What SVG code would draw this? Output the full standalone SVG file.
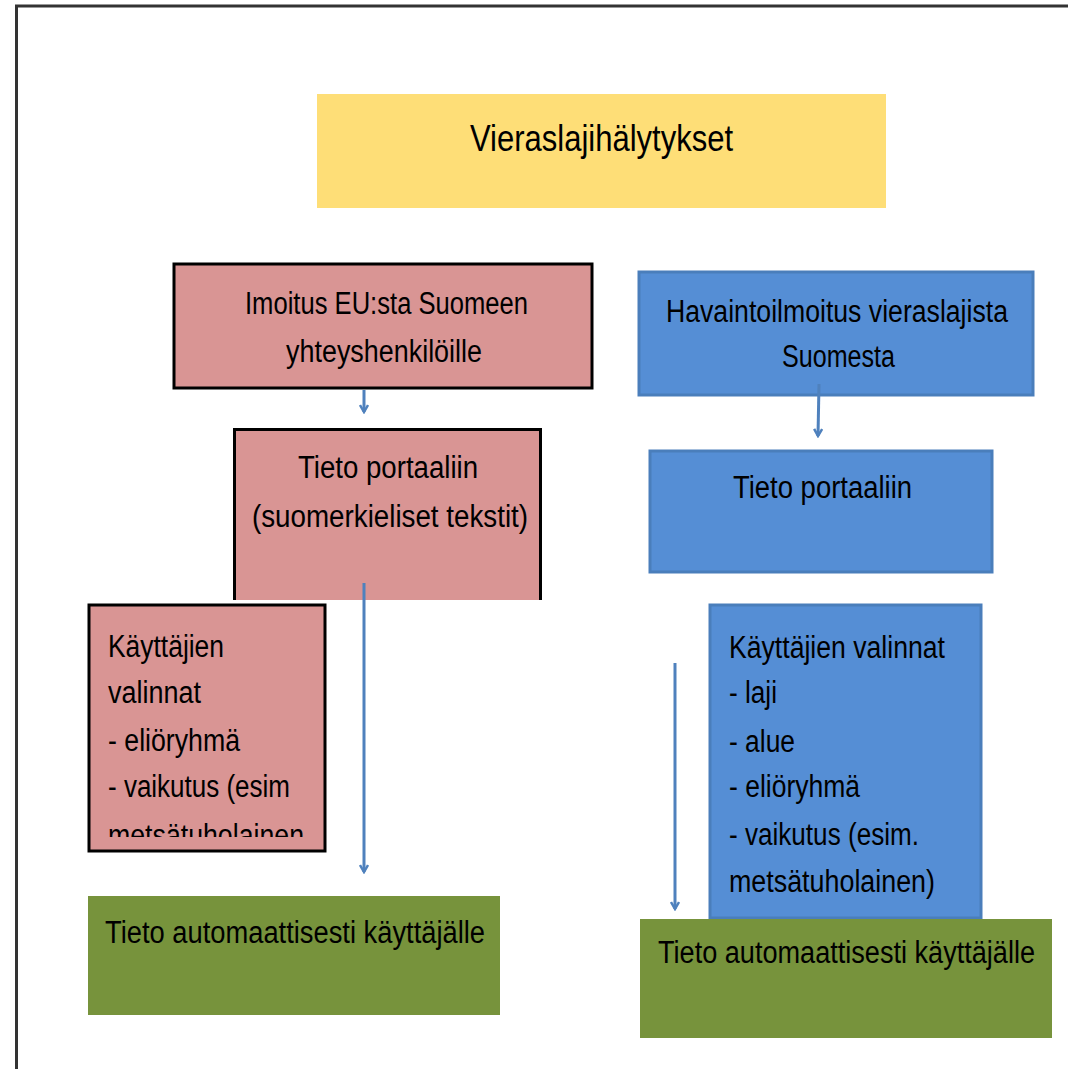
<svg xmlns="http://www.w3.org/2000/svg" width="1068" height="1069" viewBox="0 0 1068 1069">
<style>
text{font-family:"Liberation Sans",Arial,sans-serif;fill:#000}
.t{font-size:31px}
.title{font-size:36px}
.pink{fill:#D99594}
.blue{fill:#558ED5;stroke:#4A7EBB;stroke-width:3}
.green{fill:#77933C}
.conn{stroke:#4F81BD;stroke-width:3;fill:none}
</style>
<defs>
<marker id="ah" markerWidth="10" markerHeight="10" refX="8" refY="5" orient="auto" markerUnits="userSpaceOnUse" viewBox="0 0 10 10">
<path d="M1,1 L8,5 L1,9" fill="none" stroke="#4F81BD" stroke-width="2.5"/>
</marker>
<clipPath id="c3"><rect x="88" y="604" width="238" height="233"/></clipPath>
</defs>
<g id="frame">
<line x1="15" y1="6" x2="1068" y2="6" stroke="#333" stroke-width="3"/>
<line x1="16.5" y1="5" x2="16.5" y2="1069" stroke="#333" stroke-width="3"/>
</g>
<g id="title">
<rect x="317" y="94" width="569" height="114" fill="#FEDE77"/>
<text class="title" x="470" y="151" textLength="263" lengthAdjust="spacingAndGlyphs">Vieraslajihälytykset</text>
</g>
<g id="eu">
<rect class="pink" x="174" y="264" width="418" height="124" stroke="#000" stroke-width="3"/>
<text class="t" x="245" y="314" textLength="283" lengthAdjust="spacingAndGlyphs">Imoitus EU:sta Suomeen</text>
<text class="t" x="286" y="362" textLength="196" lengthAdjust="spacingAndGlyphs">yhteyshenkilöille</text>
</g>
<g id="portal-left">
<rect class="pink" x="233" y="428" width="309" height="172"/>
<path d="M234.5,600 V429.5 H540.5 V600" fill="none" stroke="#000" stroke-width="3"/>
<text class="t" x="298" y="478" textLength="180" lengthAdjust="spacingAndGlyphs">Tieto portaaliin</text>
<text class="t" x="252" y="527" textLength="276" lengthAdjust="spacingAndGlyphs">(suomerkieliset tekstit)</text>
</g>
<g id="choices-left">
<rect class="pink" x="89" y="605" width="236" height="246" stroke="#000" stroke-width="3"/>
<g clip-path="url(#c3)">
<text class="t" x="108" y="657" textLength="116" lengthAdjust="spacingAndGlyphs">Käyttäjien</text>
<text class="t" x="108" y="703" textLength="93" lengthAdjust="spacingAndGlyphs">valinnat</text>
<text class="t" x="108" y="751" textLength="132" lengthAdjust="spacingAndGlyphs">- eliöryhmä</text>
<text class="t" x="108" y="797" textLength="182" lengthAdjust="spacingAndGlyphs">- vaikutus (esim</text>
<text class="t" x="108" y="846" textLength="196" lengthAdjust="spacingAndGlyphs">metsätuholainen</text>
</g>
</g>
<g id="result-left">
<rect class="green" x="88" y="896" width="412" height="119"/>
<text class="t" x="105" y="943" textLength="380" lengthAdjust="spacingAndGlyphs">Tieto automaattisesti käyttäjälle</text>
</g>
<g id="observation">
<rect class="blue" x="639" y="272" width="394" height="123"/>
<text class="t" x="666" y="322" textLength="342" lengthAdjust="spacingAndGlyphs">Havaintoilmoitus vieraslajista</text>
<text class="t" x="782" y="367" textLength="113" lengthAdjust="spacingAndGlyphs">Suomesta</text>
</g>
<g id="portal-right">
<rect class="blue" x="650" y="451" width="342" height="121"/>
<text class="t" x="733" y="498" textLength="179" lengthAdjust="spacingAndGlyphs">Tieto portaaliin</text>
</g>
<g id="choices-right">
<rect class="blue" x="710" y="605" width="271" height="313"/>
<text class="t" x="729" y="658" textLength="216" lengthAdjust="spacingAndGlyphs">Käyttäjien valinnat</text>
<text class="t" x="729" y="703" textLength="48" lengthAdjust="spacingAndGlyphs">- laji</text>
<text class="t" x="729" y="752" textLength="66" lengthAdjust="spacingAndGlyphs">- alue</text>
<text class="t" x="729" y="797" textLength="131" lengthAdjust="spacingAndGlyphs">- eliöryhmä</text>
<text class="t" x="729" y="845" textLength="190" lengthAdjust="spacingAndGlyphs">- vaikutus (esim.</text>
<text class="t" x="729" y="892" textLength="206" lengthAdjust="spacingAndGlyphs">metsätuholainen)</text>
</g>
<g id="result-right">
<rect class="green" x="640" y="919" width="412" height="119"/>
<text class="t" x="658" y="963" textLength="377" lengthAdjust="spacingAndGlyphs">Tieto automaattisesti käyttäjälle</text>
</g>
<g id="connectors">
<line class="conn" x1="364" y1="390" x2="364" y2="412" marker-end="url(#ah)"/>
<line class="conn" x1="364" y1="583" x2="364" y2="872" marker-end="url(#ah)"/>
<line class="conn" x1="819" y1="384" x2="818" y2="436" marker-end="url(#ah)"/>
<line class="conn" x1="675" y1="663" x2="675" y2="909" marker-end="url(#ah)"/>
</g>
</svg>
